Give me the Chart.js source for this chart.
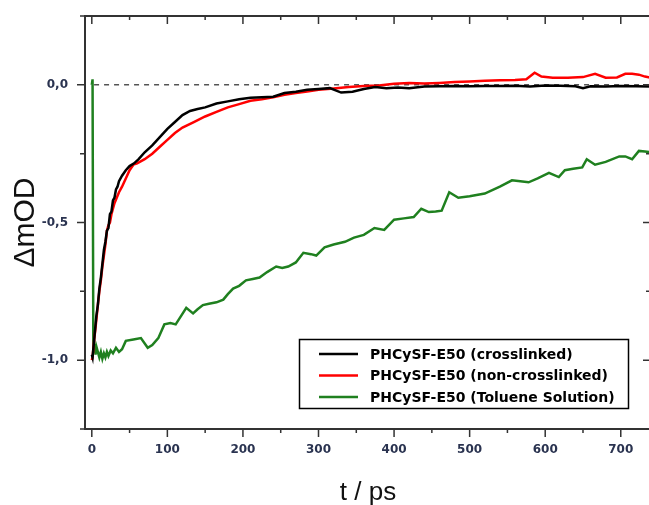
<!DOCTYPE html>
<html>
<head>
<meta charset="utf-8">
<script src="https://cdn.jsdelivr.net/npm/chart.js@4.4.0/dist/chart.umd.min.js"></script>
<style>
  html, body { margin: 0; padding: 0; background: #fff; overflow: hidden; }
  #wrap { width: 652px; height: 505px; }
</style>
</head>
<body>
<div id="wrap"><canvas id="kinetics" width="652" height="505"></canvas></div>
<script>
// series labels
const seriesNames = [
  'PHCySF-E50 (crosslinked)',
  'PHCySF-E50 (non-crosslinked)',
  'PHCySF-E50 (Toluene Solution)'
]
const seriesColors = ['#000000', '#ff0000', '#1f801f']

// crosslinked film (t in ps, dOD in mOD normalised)
const tCross = [0, 1, 2, 4, 6, 8, 10, 12, 14, 16, 18, 20, 22, 24, 26, 28, 30, 32, 34, 36, 40, 45, 50, 56, 62, 70, 80, 90, 100, 110, 120, 130, 140, 150, 165, 180, 195, 210, 225, 240, 255, 270, 285, 300, 315, 330, 345, 360, 375, 390, 405, 420, 440, 460, 480, 500, 520, 540, 560, 580, 600, 620, 640, 650, 660, 680, 700, 720, 740]
const dCross = [-0.98, -0.99, -0.96, -0.9, -0.84, -0.8, -0.74, -0.7, -0.65, -0.6, -0.57, -0.53, -0.52, -0.47, -0.46, -0.42, -0.41, -0.38, -0.37, -0.35, -0.33, -0.31, -0.295, -0.285, -0.27, -0.245, -0.22, -0.19, -0.16, -0.135, -0.11, -0.095, -0.088, -0.082, -0.068, -0.06, -0.052, -0.047, -0.045, -0.043, -0.03, -0.025, -0.018, -0.015, -0.012, -0.028, -0.025, -0.015, -0.008, -0.012, -0.01, -0.012, -0.006, -0.005, -0.004, -0.005, -0.004, -0.004, -0.003, -0.006, -0.002, -0.003, -0.005, -0.012, -0.005, -0.006, -0.004, -0.005, -0.006]

// non-crosslinked film
const tNonCross = [0, 1, 3, 5, 8, 10, 12, 14, 16, 18, 20, 22, 24, 26, 28, 30, 33, 36, 40, 45, 50, 55, 60, 70, 80, 90, 100, 110, 120, 135, 150, 165, 180, 195, 210, 225, 240, 255, 270, 285, 300, 320, 340, 360, 380, 400, 420, 440, 460, 480, 500, 520, 540, 560, 575, 586, 595, 610, 630, 650, 666, 680, 695, 706, 715, 724, 732, 740]
const dNonCross = [-1.0, -0.99, -0.93, -0.88, -0.8, -0.75, -0.71, -0.66, -0.62, -0.58, -0.53, -0.51, -0.5, -0.47, -0.45, -0.43, -0.41, -0.39, -0.37, -0.34, -0.31, -0.29, -0.285, -0.27, -0.25, -0.225, -0.2, -0.175, -0.155, -0.135, -0.115, -0.098, -0.082, -0.07, -0.058, -0.052, -0.045, -0.036, -0.03, -0.024, -0.018, -0.013, -0.008, -0.004, -0.002, 0.004, 0.007, 0.005, 0.007, 0.01, 0.012, 0.015, 0.017, 0.018, 0.02, 0.044, 0.03, 0.026, 0.026, 0.028, 0.04, 0.026, 0.027, 0.04, 0.04, 0.037, 0.03, 0.026]

// toluene solution
const tToluene = [0, 1, 2, 3, 4, 5, 6, 8, 10, 12, 14, 16, 18, 20, 22, 25, 28, 32, 36, 40, 45, 55, 65, 74, 80, 88, 96, 104, 111, 118, 125, 134, 140, 147, 155, 165, 174, 180, 187, 195, 204, 213, 222, 232, 244, 252, 260, 270, 280, 290, 297, 308, 320, 335, 347, 360, 374, 387, 400, 413, 426, 436, 446, 455, 463, 473, 485, 500, 520, 540, 556, 567, 578, 590, 605, 618, 626, 637, 649, 655, 666, 680, 698, 706, 715, 724, 732, 740]
const dToluene = [0.0, 0.02, -0.93, -0.97, -0.94, -0.98, -0.95, -0.97, -0.99, -0.97, -0.995, -0.975, -0.99, -0.97, -0.985, -0.965, -0.975, -0.955, -0.97, -0.96, -0.93, -0.925, -0.92, -0.955, -0.945, -0.92, -0.87, -0.865, -0.87, -0.84, -0.81, -0.83, -0.815, -0.8, -0.795, -0.79, -0.78, -0.76, -0.74, -0.73, -0.71, -0.705, -0.7, -0.68, -0.66, -0.665, -0.66, -0.645, -0.61, -0.615, -0.62, -0.59, -0.58, -0.57, -0.555, -0.545, -0.52, -0.527, -0.49, -0.485, -0.48, -0.45, -0.462, -0.46, -0.457, -0.39, -0.41, -0.405, -0.395, -0.37, -0.347, -0.35, -0.354, -0.34, -0.32, -0.335, -0.31, -0.305, -0.3, -0.27, -0.29, -0.28, -0.26, -0.26, -0.27, -0.24, -0.242, -0.245]

// axis ticks
const xTicks = [0, 100, 200, 300, 400, 500, 600, 700]
const xMinor = [50, 150, 250, 350, 450, 550, 650]
const yTicks = [-1.0, -0.5, 0.0]
const yMinor = [-1.25, -0.75, -0.25, 0.25]

const toPoints = (ts, ds) => ts.map((t, i) => ({ x: t, y: ds[i] }))

const labelFont = { family: 'DejaVu Sans', size: 12, weight: 'bold' }
const labelColor = '#2a3350'

// frame, tick marks, zero line and the boxed legend
const framePlugin = {
  id: 'frame',
  beforeDatasetsDraw(chart) {
    const { ctx, chartArea, scales } = chart
    const y0 = scales.y.getPixelForValue(0)
    ctx.save()
    ctx.strokeStyle = '#000'
    ctx.lineWidth = 1
    ctx.setLineDash([5, 5])
    ctx.beginPath()
    ctx.moveTo(scales.x.getPixelForValue(3), y0)
    ctx.lineTo(chartArea.right, y0)
    ctx.stroke()
    ctx.restore()
  },
  afterDraw(chart) {
    const { ctx, chartArea: a, scales } = chart
    ctx.save()
    ctx.strokeStyle = '#333'
    ctx.lineWidth = 2
    ctx.strokeRect(a.left, a.top, a.right - a.left, a.bottom - a.top)

    ctx.lineWidth = 1.5
    ctx.beginPath()
    const xTick = (v, len) => {
      const px = scales.x.getPixelForValue(v)
      ctx.moveTo(px, a.bottom); ctx.lineTo(px, a.bottom + len)
      ctx.moveTo(px, a.top); ctx.lineTo(px, a.top + len)
    }
    const yTick = (v, len) => {
      const py = scales.y.getPixelForValue(v)
      ctx.moveTo(a.left, py); ctx.lineTo(a.left - len, py)
      ctx.moveTo(a.right, py); ctx.lineTo(a.right - len, py)
    }
    xTicks.forEach(v => xTick(v, 8))
    xMinor.forEach(v => xTick(v, 4))
    yTicks.forEach(v => yTick(v, 8))
    yMinor.forEach(v => yTick(v, 5))
    ctx.stroke()

    // legend
    const bx = 299.5, by = 339.5, bw = 329, bh = 69
    ctx.fillStyle = '#fff'
    ctx.fillRect(bx, by, bw, bh)
    ctx.strokeStyle = '#000'
    ctx.lineWidth = 1.5
    ctx.strokeRect(bx, by, bw, bh)
    ctx.font = 'bold 14px "DejaVu Sans"'
    ctx.textBaseline = 'middle'
    chart.data.datasets.forEach((ds, i) => {
      const ly = 354 + i * 21.5
      ctx.strokeStyle = ds.borderColor
      ctx.lineWidth = 2.5
      ctx.beginPath()
      ctx.moveTo(319, ly); ctx.lineTo(358, ly)
      ctx.stroke()
      ctx.fillStyle = '#000'
      ctx.fillText(ds.label, 370, ly + 1)
    })
    ctx.restore()
  }
}

const ctx = document.querySelector('#kinetics')
new Chart(ctx, {
  type: 'line',
  data: {
    datasets: [
      { label: seriesNames[0], data: toPoints(tCross, dCross), borderColor: seriesColors[0] },
      { label: seriesNames[1], data: toPoints(tNonCross, dNonCross), borderColor: seriesColors[1] },
      { label: seriesNames[2], data: toPoints(tToluene, dToluene), borderColor: seriesColors[2] }
    ]
  },
  options: {
    responsive: false,
    animation: false,
    devicePixelRatio: 1,
    layout: { padding: { top: 16, right: 1, bottom: 0, left: 0 } },
    elements: {
      point: { radius: 0 },
      line: { borderWidth: 2.5, tension: 0 }
    },
    plugins: {
      legend: { display: false },
      tooltip: { enabled: false }
    },
    scales: {
      x: {
        type: 'linear',
        min: -9,
        max: 740,
        afterBuildTicks: (s) => { s.ticks = xTicks.map(v => ({ value: v })) },
        afterFit: (s) => { s.height = 76; s.paddingLeft = 0; s.paddingRight = 0 },
        grid: { display: false, drawTicks: false },
        border: { display: false },
        ticks: { font: labelFont, color: labelColor, padding: 14, maxRotation: 0, autoSkip: false },
        title: {
          display: true,
          text: 't / ps',
          color: '#111',
          font: { family: 'Liberation Sans', size: 26, lineHeight: 0.92 },
          padding: { top: 0, bottom: 0 }
        }
      },
      y: {
        type: 'linear',
        min: -1.25,
        max: 0.25,
        afterBuildTicks: (s) => { s.ticks = yTicks.map(v => ({ value: v })) },
        afterFit: (s) => { s.width = 85; s.paddingTop = 0; s.paddingBottom = 0 },
        grid: { display: false, drawTicks: false },
        border: { display: false },
        ticks: {
          font: labelFont,
          color: labelColor,
          padding: 17,
          callback: (v) => (Math.abs(v) < 1e-9 ? 0 : v).toFixed(1).replace('.', ',')
        },
        title: {
          display: true,
          text: 'ΔmOD',
          color: '#111',
          font: { family: 'Liberation Sans', size: 30 },
          padding: { top: 8, bottom: 0 }
        }
      }
    }
  },
  plugins: [framePlugin]
})
</script>
</body>
</html>
